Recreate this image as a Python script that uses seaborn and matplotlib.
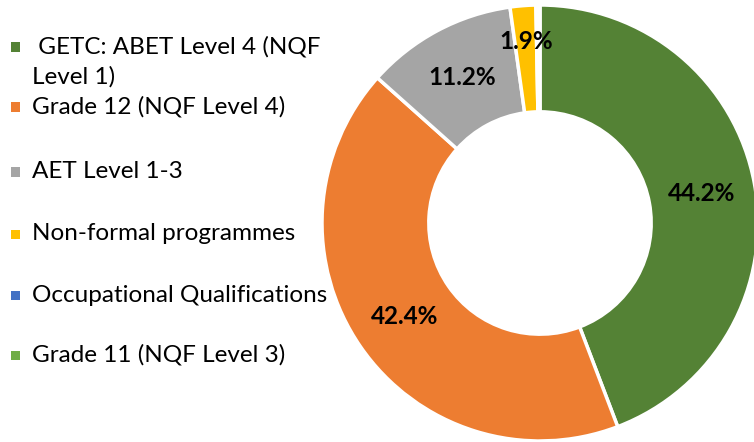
import matplotlib
matplotlib.use("Agg")
import matplotlib.pyplot as plt
import matplotlib.patches as mpatches
import seaborn as sns
import numpy as np

categories = [" GETC: ABET Level 4 (NQF\nLevel 1)", "Grade 12 (NQF Level 4)", "AET Level 1-3",
              "Non-formal programmes", "Occupational Qualifications", "Grade 11 (NQF Level 3)"]
values = [44.2, 42.4, 11.2, 1.9, 0.2, 0.1]
labels_shown = ["44.2%", "42.4%", "11.2%", "1.9%", "", ""]
colors = ["#548235", "#ED7D31", "#A5A5A5", "#FFC000", "#4472C4", "#70AD47"]

sns.set_theme(style="white")
plt.rcParams["font.family"] = ["Lato", "DejaVu Sans"]
palette = sns.color_palette(colors)

fig = plt.figure(figsize=(7.54, 4.42), dpi=100)
W, H = 754, 442
cx, cy, R = 540, 223, 218
ax = fig.add_axes([(cx - R) / W, (H - cy - R) / H, 2 * R / W, 2 * R / H])
wedges, _ = ax.pie(values, colors=palette, startangle=90, counterclock=False,
                   radius=1.0, wedgeprops=dict(width=0.49, edgecolor="white", linewidth=2.5))
ax.set_xlim(-1, 1)
ax.set_ylim(-1, 1)
ax.set_aspect("equal")
ax.axis("off")

total = sum(values)
cum = 0
for v, lab in zip(values, labels_shown):
    mid = (cum + v / 2) / total * 2 * np.pi
    cum += v
    if not lab:
        continue
    r = 0.755 if v > 5 else 0.835
    ax.text(r * np.sin(mid), r * np.cos(mid), lab, ha="center", va="center",
            fontsize=17.5, fontweight="bold", color="black")

# legend
legend_y = [47, 107, 172, 234, 295, 355]
for lab, col, y in zip(categories, colors, legend_y):
    fig.patches.append(mpatches.Rectangle((11 / W, (H - y - 4.5) / H), 9 / W, 9 / H,
                                          transform=fig.transFigure, facecolor=col, edgecolor="none"))
    lines = lab.split("\n")
    for i, line in enumerate(lines):
        fig.text(32 / W, (H - y - 30 * i) / H, line, ha="left", va="center",
                 fontsize=17.5, color="black")

fig.savefig("out.png", dpi=100)
